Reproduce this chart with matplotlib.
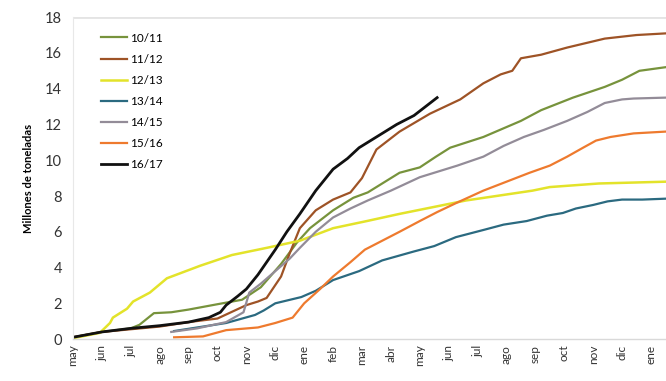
import matplotlib
matplotlib.use('Agg')
import matplotlib.pyplot as plt

# Month labels on the x axis (campaign runs may -> ene of following year)
months = ['may', 'jun', 'jul', 'ago', 'sep', 'oct', 'nov', 'dic', 'ene', 'feb', 'mar', 'abr',
          'may', 'jun', 'jul', 'ago', 'sep', 'oct', 'nov', 'dic', 'ene']

# Each season: month position (0 = may) and cumulative millions of tonnes
x_1011 = [0, 1, 2, 2.3, 2.8, 3.4, 4.0, 5.0, 5.85, 6.5, 7.2, 7.75, 8.2, 9.0, 9.7, 10.2, 11.3,
          12.0, 12.56, 13.05, 14.2, 15.5, 16.2, 17.3, 18.4, 19.0, 19.6, 20.5]
y_1011 = [0.1, 0.4, 0.6, 0.8, 1.45, 1.5, 1.65, 1.95, 2.2, 2.9, 4.2, 5.4, 6.2, 7.2, 7.9, 8.2, 9.3,
          9.6, 10.2, 10.7, 11.3, 12.2, 12.8, 13.5, 14.1, 14.5, 15.0, 15.2]

x_1112 = [0, 1, 2, 3, 4, 5, 6, 6.4, 6.7, 7.2, 7.5, 7.85, 8.4, 9.0, 9.6, 10.0, 10.5, 11.3,
          12.35, 13.4, 14.2, 14.8, 15.2, 15.5, 16.2, 17.1, 18.4, 19.5, 20.6]
y_1112 = [0.1, 0.4, 0.55, 0.7, 0.95, 1.15, 1.9, 2.1, 2.3, 3.5, 4.8, 6.2, 7.2, 7.8, 8.2, 9.0, 10.6,
          11.6, 12.6, 13.4, 14.3, 14.8, 15.0, 15.7, 15.9, 16.3, 16.8, 17.0, 17.1]

x_1213 = [0, 0.93, 1.28, 1.38, 1.87, 2.08, 2.66, 3.25, 4.4, 5.5, 6.7, 7.85, 9.0, 10.17, 11.3,
          13.6, 15.9, 16.5, 18.2, 20.5]
y_1213 = [0.05, 0.35, 0.9, 1.2, 1.7, 2.1, 2.6, 3.4, 4.1, 4.7, 5.1, 5.5, 6.2, 6.6, 7.0,
          7.75, 8.3, 8.5, 8.7, 8.8]

x_1314 = [3.5, 4.5, 5.3, 6.3, 6.6, 7.0, 7.9, 8.4, 9.0, 9.9, 10.7, 11.8, 12.5, 13.25, 14.2,
          14.9, 15.7, 16.4, 16.95, 17.4, 18.0, 18.5, 19.0, 19.7, 20.5]
y_1314 = [0.45, 0.7, 0.9, 1.35, 1.6, 2.0, 2.35, 2.7, 3.3, 3.8, 4.4, 4.9, 5.2, 5.7, 6.1,
          6.4, 6.6, 6.9, 7.05, 7.3, 7.5, 7.7, 7.8, 7.8, 7.85]

x_1415 = [3.4, 4.3, 5.3, 5.9, 6.1, 6.5, 7.0, 7.5, 7.85, 8.4, 9.0, 9.6, 10.2, 11.0, 12.0, 12.5,
          13.3, 14.2, 14.9, 15.6, 16.3, 17.1, 17.8, 18.4, 19.0, 19.4, 20.5]
y_1415 = [0.4, 0.6, 0.95, 1.5, 2.6, 3.1, 3.8, 4.5, 5.1, 6.0, 6.8, 7.3, 7.75, 8.3, 9.05, 9.3,
          9.7, 10.2, 10.8, 11.3, 11.7, 12.2, 12.7, 13.2, 13.4, 13.45, 13.5]

x_1516 = [3.5, 4.5, 5.3, 6.4, 7.0, 7.6, 8.0, 8.55, 9.0, 9.6, 10.1, 10.7, 11.3, 12.0, 12.6,
          13.25, 14.2, 15.0, 15.8, 16.5, 17.1, 17.65, 18.1, 18.6, 19.4, 20.5]
y_1516 = [0.1, 0.15, 0.5, 0.65, 0.9, 1.2, 2.0, 2.8, 3.5, 4.3, 5.0, 5.5, 6.0, 6.6, 7.1,
          7.6, 8.3, 8.8, 9.3, 9.7, 10.2, 10.7, 11.1, 11.3, 11.5, 11.6]

x_1617 = [0, 1, 2, 3, 4, 4.7, 5.1, 5.3, 5.7, 6.0, 6.4, 7.0, 7.4, 7.85, 8.4, 9.0, 9.5, 9.9,
          10.5, 11.2, 11.8, 12.2, 12.6]
y_1617 = [0.1, 0.4, 0.6, 0.75, 0.95, 1.2, 1.5, 1.9, 2.4, 2.8, 3.6, 5.0, 6.0, 7.0, 8.3, 9.5, 10.1,
          10.7, 11.3, 12.0, 12.5, 13.0, 13.5]

seasons = [
    ('10/11', x_1011, y_1011, '#77933C', 1.6),
    ('11/12', x_1112, y_1112, '#9E5326', 1.6),
    ('12/13', x_1213, y_1213, '#E3E32A', 1.8),
    ('13/14', x_1314, y_1314, '#2B6A80', 1.6),
    ('14/15', x_1415, y_1415, '#938C98', 1.6),
    ('15/16', x_1516, y_1516, '#EE7A2E', 1.6),
    ('16/17', x_1617, y_1617, '#111111', 2.0),
]

plt.rcParams['font.family'] = ['Lato', 'DejaVu Sans']

fig = plt.figure(figsize=(6.66, 3.81), dpi=100)
ax = fig.add_axes([0.1096, 0.110, 0.8904, 0.845])

for label, xs, ys, color, lw in seasons:
    ax.plot(xs, ys, color=color, lw=lw, label=label, solid_joinstyle='round')

ax.set_xlim(0, 20.52)
ax.set_ylim(0, 18)
ax.set_yticks(range(0, 19, 2))
ax.set_xticks(range(len(months)))
ax.set_xticklabels(months, rotation=90, fontsize=8.5, color='#333333')
ax.tick_params(axis='y', labelsize=10.5, colors='#333333', length=0, pad=8)
ax.tick_params(axis='x', length=0, pad=4)

ax.axhline(18, color='#e4e4e4', lw=2, zorder=0)
for side in ['top', 'right']:
    ax.spines[side].set_visible(False)
ax.spines['left'].set_color('#e8e8e8')
ax.spines['bottom'].set_color('#d9d9d9')
ax.spines['bottom'].set_linewidth(1.0)

ax.set_ylabel('Millones de toneladas', fontsize=8, fontweight='bold', labelpad=8)

ax.legend(loc='upper left', bbox_to_anchor=(0.03, 0.985), frameon=False, fontsize=8.5,
          handlelength=2.2, handletextpad=0.2, labelspacing=0.85)

fig.savefig('out.png', dpi=100)
